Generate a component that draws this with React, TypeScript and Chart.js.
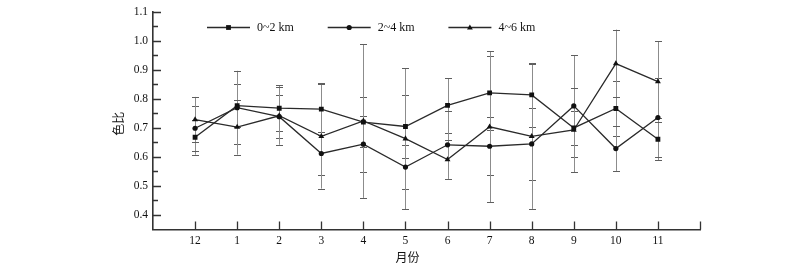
import React, { useEffect, useRef } from 'react';
import { Chart, registerables } from 'chart.js';

Chart.register(...registerables);

// ---- data ----
const months = ['12', '1', '2', '3', '4', '5', '6', '7', '8', '9', '10', '11'];
const series02 = [0.668, 0.777, 0.768, 0.765, 0.720, 0.705, 0.778, 0.821, 0.814, 0.700, 0.767, 0.661];
const series24 = [0.699, 0.770, 0.739, 0.612, 0.644, 0.565, 0.642, 0.637, 0.645, 0.776, 0.629, 0.736];
const series46 = [0.729, 0.703, 0.742, 0.671, 0.724, 0.663, 0.591, 0.704, 0.671, 0.693, 0.922, 0.860];
const err02 = [0.060, 0.075, 0.080, 0.090, 0.085, 0.110, 0.094, 0.127, 0.110, 0.060, 0.095, 0.073];
const err24 = [0.078, 0.127, 0.075, 0.075, 0.097, 0.077, 0.117, 0.100, 0.125, 0.175, 0.077, 0.137];
const err46 = [0.078, 0.095, 0.100, 0.180, 0.265, 0.243, 0.066, 0.260, 0.250, 0.145, 0.117, 0.138];
const seriesLabels = ['0~2 km', '2~4 km', '4~6 km'];
const seriesMarkers = ['rect', 'circle', 'triangle'];
const yMajorTicks = [0.4, 0.5, 0.6, 0.7, 0.8, 0.9, 1.0, 1.1];
const yMinorTicks = [0.45, 0.55, 0.65, 0.75, 0.85, 0.95, 1.05];
const yTitle = '色比';
const xTitle = '月份';

const allSeries = [series02, series24, series46];
const allErrors = [err02, err24, err46];

const SERIF = '"Liberation Serif", "DejaVu Serif", serif';
const CJK = '"Noto Sans CJK SC", sans-serif';
const AXIS_COLOR = '#333';
const TEXT_COLOR = '#111';

function drawMarker(ctx: CanvasRenderingContext2D, style: string, x: number, y: number) {
  ctx.save();
  ctx.fillStyle = '#111';
  ctx.beginPath();
  if (style === 'rect') {
    ctx.rect(x - 2.4, y - 2.4, 4.8, 4.8);
  } else if (style === 'circle') {
    ctx.arc(x, y, 2.6, 0, Math.PI * 2);
  } else {
    ctx.moveTo(x, y - 3);
    ctx.lineTo(x + 2.9, y + 2);
    ctx.lineTo(x - 2.9, y + 2);
    ctx.closePath();
  }
  ctx.fill();
  ctx.restore();
}

const errorBarPlugin = {
  id: 'errorBars',
  beforeDatasetsDraw(chart: any) {
    const ctx: CanvasRenderingContext2D = chart.ctx;
    const xs = chart.scales.x;
    const ys = chart.scales.y;
    ctx.save();
    ctx.lineWidth = 1;
    allSeries.forEach((vals, d) => {
      const errs = allErrors[d];
      vals.forEach((v, i) => {
        const x = Math.round(xs.getPixelForValue(i)) + 0.5;
        const yHi = ys.getPixelForValue(v + errs[i]);
        const yLo = ys.getPixelForValue(v - errs[i]);
        ctx.strokeStyle = '#8c8c8c';
        ctx.beginPath();
        ctx.moveTo(x, yHi);
        ctx.lineTo(x, yLo);
        ctx.stroke();
        ctx.strokeStyle = '#5e5e5e';
        ctx.beginPath();
        ctx.moveTo(x - 3.5, Math.round(yHi) + 0.5);
        ctx.lineTo(x + 3.5, Math.round(yHi) + 0.5);
        ctx.moveTo(x - 3.5, Math.round(yLo) + 0.5);
        ctx.lineTo(x + 3.5, Math.round(yLo) + 0.5);
        ctx.stroke();
      });
    });
    ctx.restore();
  },
};

const decorPlugin = {
  id: 'decor',
  afterDraw(chart: any) {
    const ctx: CanvasRenderingContext2D = chart.ctx;
    const xs = chart.scales.x;
    const ys = chart.scales.y;
    const area = chart.chartArea;
    ctx.save();
    // inward ticks
    ctx.strokeStyle = AXIS_COLOR;
    ctx.lineWidth = 1.3;
    ctx.beginPath();
    yMajorTicks.forEach((v) => {
      const y = Math.round(ys.getPixelForValue(v)) + 0.5;
      ctx.moveTo(area.left, y);
      ctx.lineTo(area.left + 8, y);
    });
    yMinorTicks.forEach((v) => {
      const y = Math.round(ys.getPixelForValue(v)) + 0.5;
      ctx.moveTo(area.left, y);
      ctx.lineTo(area.left + 5, y);
    });
    for (let i = 0; i <= months.length; i++) {
      const x = Math.round(xs.getPixelForValue(i)) + 0.5;
      ctx.moveTo(x, area.bottom);
      ctx.lineTo(x, area.bottom - 8);
    }
    ctx.stroke();

    // axis titles
    ctx.fillStyle = TEXT_COLOR;
    ctx.font = `12px ${CJK}`;
    ctx.textAlign = 'center';
    ctx.textBaseline = 'middle';
    ctx.save();
    ctx.translate(118, (area.top + area.bottom) / 2 + 3);
    ctx.rotate(-Math.PI / 2);
    ctx.fillText(yTitle, 0, 0);
    ctx.restore();
    ctx.fillText(xTitle, xs.getPixelForValue(5.05), 257);

    // legend
    const legendY = 27;
    const startX = 207;
    const step = 120.7;
    ctx.font = `12px ${SERIF}`;
    ctx.textAlign = 'left';
    ctx.textBaseline = 'middle';
    seriesLabels.forEach((label, d) => {
      const x0 = startX + d * step;
      ctx.strokeStyle = '#2a2a2a';
      ctx.lineWidth = 1.3;
      ctx.beginPath();
      ctx.moveTo(x0, legendY + 0.5);
      ctx.lineTo(x0 + 43, legendY + 0.5);
      ctx.stroke();
      drawMarker(ctx, seriesMarkers[d], x0 + 21.5, legendY + 0.5);
      ctx.fillStyle = TEXT_COLOR;
      ctx.fillText(label, x0 + 50, legendY + 1);
    });
    ctx.restore();
  },
};

export default function App() {
  const canvasRef = useRef<HTMLCanvasElement | null>(null);

  useEffect(() => {
    const canvas = canvasRef.current;
    if (!canvas) return;
    const datasets = allSeries.map((vals, d) => ({
      label: seriesLabels[d],
      data: vals.map((v, i) => ({ x: i, y: v })),
      borderColor: '#2a2a2a',
      borderWidth: 1.3,
      pointStyle: seriesMarkers[d] as any,
      pointRadius: seriesMarkers[d] === 'circle' ? 2.6 : 3.4,
      pointBackgroundColor: '#111',
      pointBorderColor: '#111',
      pointBorderWidth: 0,
      fill: false,
      tension: 0,
    }));
    const chart = new Chart(canvas, {
      type: 'line',
      data: { datasets },
      options: {
        animation: false,
        responsive: false,
        maintainAspectRatio: false,
        devicePixelRatio: 1,
        layout: { padding: { left: 0, top: 8, right: 100, bottom: 0 } },
        plugins: {
          legend: { display: false },
          tooltip: { enabled: false },
        },
        scales: {
          x: {
            type: 'linear',
            min: -1,
            max: 12,
            afterBuildTicks: (s: any) => {
              s.ticks = months.map((_, i) => ({ value: i }));
            },
            afterFit: (s: any) => {
              s.height = 37.5;
            },
            ticks: {
              autoSkip: false,
              maxRotation: 0,
              padding: 5,
              color: TEXT_COLOR,
              font: { family: SERIF, size: 11.5 },
              callback: (v: any) => months[v as number] ?? '',
            },
            grid: { display: false, drawTicks: false },
            border: { display: true, color: AXIS_COLOR, width: 1.6 },
          },
          y: {
            type: 'linear',
            min: 0.35,
            max: 1.1,
            afterBuildTicks: (s: any) => {
              s.ticks = yMajorTicks.map((v) => ({ value: v }));
            },
            afterFit: (s: any) => {
              s.width = 153;
            },
            ticks: {
              padding: 5,
              color: TEXT_COLOR,
              font: { family: SERIF, size: 11.5 },
              callback: (v: any) => Number(v).toFixed(1),
            },
            grid: { display: false, drawTicks: false },
            border: { display: true, color: AXIS_COLOR, width: 1.6 },
          },
        },
      },
      plugins: [errorBarPlugin, decorPlugin],
    });
    return () => chart.destroy();
  }, []);

  return (
    <div style={{ position: 'absolute', left: 0, top: 0, width: 800, height: 267, background: '#fff' }}>
      <canvas ref={canvasRef} width={800} height={267} style={{ width: 800, height: 267, display: 'block' }} />
    </div>
  );
}
